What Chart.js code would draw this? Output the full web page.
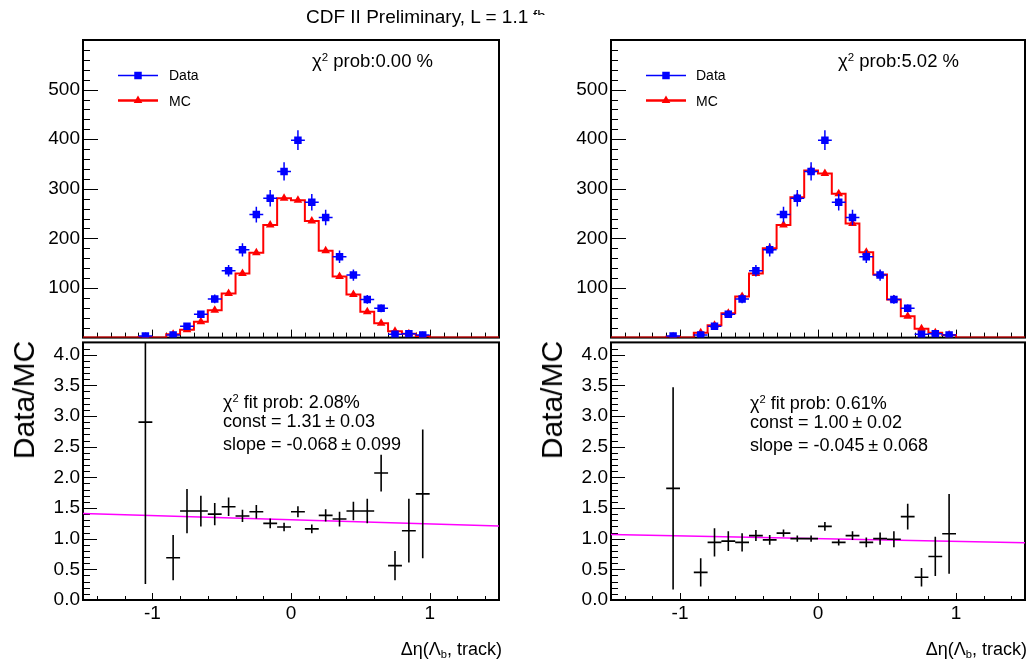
<!DOCTYPE html>
<html>
<head>
<meta charset="utf-8">
<script src="https://cdn.jsdelivr.net/npm/chart.js@4.4.1/dist/chart.umd.min.js"></script>
<style>
  body { margin: 0; background: #fff; }
  #page { position: relative; width: 1031px; height: 666px; overflow: hidden;
          font-family: "Liberation Sans", Arial, Helvetica, sans-serif; color: #000; }
  canvas { position: absolute; }
  .t { position: absolute; white-space: nowrap; line-height: 1; }
  .t sup { font-size: 62%; vertical-align: 0.55em; line-height: 0; }
  .t sub { font-size: 62%; vertical-align: -0.3em; line-height: 0; }
  .big { font-size: 18px; }
  .leg { font-size: 14px; }
  .ylab { font-size: 30px; transform: translate(-50%, -50%) rotate(-90deg); }
  .xlab { font-size: 18px; transform: translateX(-100%); }
</style>
</head>
<body>
<div id="page">
  <canvas id="topLeft" width="515" height="352" style="left:0px;top:0px"></canvas>
  <canvas id="botLeft" width="515" height="312" style="left:0px;top:328px"></canvas>
  <canvas id="topRight" width="503" height="352" style="left:528px;top:0px"></canvas>
  <canvas id="botRight" width="503" height="312" style="left:528px;top:328px"></canvas>

  <div class="t" style="left:306px;top:7px;font-size:19px">CDF II Preliminary, L = 1.1</div>
  <div style="position:absolute;left:533px;top:10px;width:16px;height:5px;overflow:hidden">
    <div class="t" style="left:0px;top:-2px;font-size:15px">fb</div>
  </div>

  <div class="t big" style="left:312px;top:52px;font-size:18.5px">&chi;<sup>2</sup> prob:0.00 %</div>
  <div class="t big" style="left:838px;top:52px;font-size:18.5px">&chi;<sup>2</sup> prob:5.02 %</div>

  <div class="t leg" style="left:169px;top:68px">Data</div>
  <div class="t leg" style="left:169px;top:94px">MC</div>
  <div class="t leg" style="left:696px;top:68px">Data</div>
  <div class="t leg" style="left:696px;top:94px">MC</div>

  <div class="t big" style="left:223px;top:393px">&chi;<sup>2</sup> fit prob: 2.08%</div>
  <div class="t big" style="left:223px;top:412px">const = 1.31&#8201;&plusmn; 0.03</div>
  <div class="t big" style="left:223px;top:435px">slope = -0.068&#8201;&plusmn; 0.099</div>
  <div class="t big" style="left:750px;top:394px">&chi;<sup>2</sup> fit prob: 0.61%</div>
  <div class="t big" style="left:750px;top:413px">const = 1.00&#8201;&plusmn; 0.02</div>
  <div class="t big" style="left:750px;top:436px">slope = -0.045&#8201;&plusmn; 0.068</div>

  <div class="t ylab" style="left:24px;top:400px">Data/MC</div>
  <div class="t ylab" style="left:552px;top:400px">Data/MC</div>

  <div class="t xlab" style="left:502px;top:640px">&Delta;&eta;(&Lambda;<sub>b</sub>, track)</div>
  <div class="t xlab" style="left:1027px;top:640px">&Delta;&eta;(&Lambda;<sub>b</sub>, track)</div>
</div>

<script>
// bin centres of the filled bins (width 0.1)
const binCenters = [-1.05, -0.95, -0.85, -0.75, -0.65, -0.55, -0.45, -0.35, -0.25, -0.15, -0.05,
                    0.05, 0.15, 0.25, 0.35, 0.45, 0.55, 0.65, 0.75, 0.85, 0.95];
const dataCounts = [3, 0, 5, 23, 47, 78, 135, 177, 248, 281, 335,
                    398, 273, 242, 163, 126, 77, 59, 7, 8, 5];
const mcLeft  = [1, 0, 7, 16, 32, 55, 89, 129, 171, 227, 281,
                 277, 235, 175, 123, 87, 52, 29, 13, 8, 3];
const mcRight = [1.6, 0, 10, 25, 49, 83, 129, 180, 227, 283, 337,
                 331, 290, 230, 172, 127, 77, 43, 18, 10, 5];
const ratioLeft     = [2.90, null, 0.69, 1.45, 1.45, 1.40, 1.52, 1.37, 1.44, 1.25, 1.19,
                       1.44, 1.16, 1.38, 1.32, 1.45, 1.45, 2.07, 0.56, 1.13, 1.73];
const ratioLeftErr  = [2.64, null, 0.37, 0.36, 0.25, 0.18, 0.15, 0.10, 0.11, 0.08, 0.07,
                       0.09, 0.07, 0.10, 0.12, 0.15, 0.20, 0.30, 0.24, 0.52, 1.05];
const ratioRight    = [1.82, null, 0.45, 0.94, 0.96, 0.94, 1.05, 0.98, 1.09, 1.00, 1.00,
                       1.20, 0.94, 1.05, 0.94, 1.00, 0.99, 1.36, 0.37, 0.71, 1.08];
const ratioRightErr = [1.65, null, 0.23, 0.23, 0.16, 0.15, 0.09, 0.08, 0.06, 0.05, 0.05,
                       0.07, 0.05, 0.07, 0.08, 0.10, 0.13, 0.21, 0.15, 0.32, 0.65];
// linear fit: [const, slope]
const fitLeft  = [1.31, -0.068];
const fitRight = [1.00, -0.045];
// labelled x ticks of the ratio panels
const xTickValues = [-1, 0, 1];

const X_MIN = -1.5, X_MAX = 1.5, BIN_HALF = 0.05;
const BLUE = '#0000ff', RED = '#ff0000', MAGENTA = '#ff00ff';

Chart.defaults.font.family = '"Liberation Sans", Arial, Helvetica, sans-serif';
Chart.defaults.color = '#000';

function markerPoints(values) {
    return binCenters.map((x, i) => ({ x: x, y: values[i], e: Math.sqrt(values[i]) }))
        .filter(p => p.y > 0);
}

function ratioPoints(values, errs) {
    return binCenters.map((x, i) => ({ x: x, y: values[i], e: errs[i] }))
        .filter(p => p.y !== null);
}

// histogram outline, flat at zero outside the filled bins
function stepPoints(values) {
    const pts = [{ x: X_MIN, y: 0 }, { x: binCenters[0] - BIN_HALF, y: 0 }];
    binCenters.forEach((c, i) => {
        pts.push({ x: c - BIN_HALF, y: values[i] }, { x: c + BIN_HALF, y: values[i] });
    });
    pts.push({ x: binCenters[binCenters.length - 1] + BIN_HALF, y: 0 }, { x: X_MAX, y: 0 });
    return pts;
}

function eachTick(min, max, t, fn) {
    const k0 = Math.ceil(min / t.minor - 1e-6), k1 = Math.floor(max / t.minor + 1e-6);
    for (let k = k0; k <= k1; k++) {
        const v = k * t.minor;
        if (Math.abs(v - min) < 1e-9 || Math.abs(v - max) < 1e-9) continue;
        const r = v / t.major;
        fn(v, Math.abs(r - Math.round(r)) < 1e-6 ? t.majorLen : t.minorLen);
    }
}

// ROOT style frame with inward ticks
const rootAxes = {
    id: 'rootAxes',
    beforeDatasetsDraw(chart, args, opts) {
        const { ctx, chartArea: a, scales: { x, y } } = chart;
        ctx.save();
        ctx.strokeStyle = '#000';
        ctx.lineWidth = 1;
        ctx.beginPath();
        eachTick(x.min, x.max, opts.x, (v, len) => {
            const px = Math.round(x.getPixelForValue(v)) + 0.5;
            ctx.moveTo(px, a.bottom);
            ctx.lineTo(px, a.bottom - len);
        });
        eachTick(y.min, y.max, opts.y, (v, len) => {
            const py = Math.round(y.getPixelForValue(v)) + 0.5;
            ctx.moveTo(a.left, py);
            ctx.lineTo(a.left + len, py);
        });
        ctx.stroke();
        ctx.lineWidth = 2;
        ctx.strokeRect(a.left, a.top, a.right - a.left, a.bottom - a.top);
        ctx.restore();
    }
};

const errorBars = {
    id: 'errorBars',
    beforeDatasetDraw(chart, args) {
        const ds = chart.data.datasets[args.index];
        if (!ds.errColor) return;
        const { ctx, chartArea: a, scales: { x, y } } = chart;
        ctx.save();
        ctx.beginPath();
        ctx.rect(a.left, a.top, a.right - a.left, a.bottom - a.top);
        ctx.clip();
        ctx.strokeStyle = ds.errColor;
        ctx.lineWidth = ds.errWidth;
        ctx.beginPath();
        ds.data.forEach(p => {
            const px = x.getPixelForValue(p.x), py = y.getPixelForValue(p.y);
            ctx.moveTo(px, y.getPixelForValue(p.y - p.e));
            ctx.lineTo(px, y.getPixelForValue(p.y + p.e));
            ctx.moveTo(x.getPixelForValue(p.x - BIN_HALF), py);
            ctx.lineTo(x.getPixelForValue(p.x + BIN_HALF), py);
        });
        ctx.stroke();
        ctx.restore();
    }
};

// legend symbols (labels are html)
const legendMarks = {
    id: 'legendMarks',
    afterDatasetsDraw(chart, args, opts) {
        if (!opts.rows) return;
        const { ctx, chartArea: a } = chart;
        opts.rows.forEach((row, i) => {
            const ds = chart.data.datasets[row.dataset];
            const y = a.top + 35.5 + i * 25;
            const x0 = a.left + opts.dx, x1 = x0 + 40;
            ctx.save();
            ctx.strokeStyle = ds.backgroundColor;
            ctx.lineWidth = row.lineWidth;
            ctx.beginPath();
            ctx.moveTo(x0, y);
            ctx.lineTo(x1, y);
            ctx.stroke();
            ctx.fillStyle = ds.backgroundColor;
            Chart.helpers.drawPoint(ctx, { pointStyle: ds.pointStyle, radius: ds.pointRadius, rotation: 0, borderWidth: 0 },
                (x0 + x1) / 2, y);
            ctx.restore();
        });
    }
};

function yAxisWidth(w) {
    return scale => { scale.width = w; };
}

function histPanel(id, mc, padRight) {
    return new Chart(document.getElementById(id), {
        type: 'scatter',
        data: {
            datasets: [
                { label: 'Data', data: markerPoints(dataCounts), pointStyle: 'rect', pointRadius: 5.3,
                  backgroundColor: BLUE, borderColor: BLUE, borderWidth: 0, errColor: BLUE, errWidth: 1.5 },
                { label: 'MC', data: markerPoints(mc), pointStyle: 'triangle', pointRadius: 5,
                  backgroundColor: RED, borderColor: RED, borderWidth: 0 },
                { label: 'MC hist', data: stepPoints(mc), showLine: true, pointRadius: 0,
                  borderColor: RED, borderWidth: 2, tension: 0 }
            ]
        },
        options: {
            responsive: false,
            devicePixelRatio: 1,
            animation: false,
            events: [],
            layout: { padding: { left: 0, right: padRight, top: 40, bottom: 12 } },
            plugins: {
                legend: { display: false },
                tooltip: { enabled: false },
                rootAxes: {
                    x: { minor: 0.1, major: 1, minorLen: 5, majorLen: 8 },
                    y: { minor: 20, major: 100, minorLen: 7, majorLen: 15 }
                },
                legendMarks: { dx: 35, rows: [{ dataset: 0, lineWidth: 1.3 }, { dataset: 1, lineWidth: 2.5 }] }
            },
            scales: {
                x: { type: 'linear', min: X_MIN, max: X_MAX, display: false },
                y: {
                    min: 0, max: 600,
                    afterFit: yAxisWidth(83),
                    grid: { display: false, drawTicks: false },
                    border: { display: false },
                    ticks: { stepSize: 100, padding: 3, font: { size: 19 },
                             callback: v => (v === 0 || v === 600) ? '' : v }
                }
            }
        },
        plugins: [rootAxes, errorBars, legendMarks]
    });
}

function ratioPanel(id, ratio, err, fit, padRight) {
    return new Chart(document.getElementById(id), {
        type: 'scatter',
        data: {
            datasets: [
                { label: 'Data/MC', data: ratioPoints(ratio, err), pointRadius: 0,
                  errColor: '#000', errWidth: 1.6 },
                { label: 'fit', showLine: true, pointRadius: 0, borderColor: MAGENTA, borderWidth: 1.5,
                  data: [{ x: X_MIN, y: fit[0] + fit[1] * X_MIN }, { x: X_MAX, y: fit[0] + fit[1] * X_MAX }] }
            ]
        },
        options: {
            responsive: false,
            devicePixelRatio: 1,
            animation: false,
            events: [],
            layout: { padding: { left: 0, right: padRight, top: 12, bottom: 0 } },
            plugins: {
                legend: { display: false },
                tooltip: { enabled: false },
                rootAxes: {
                    x: { minor: 0.2, major: 1, minorLen: 4, majorLen: 7 },
                    y: { minor: 0.1, major: 0.5, minorLen: 7, majorLen: 14 }
                }
            },
            scales: {
                x: {
                    type: 'linear', min: X_MIN, max: X_MAX,
                    afterFit: scale => { scale.height = 40; },
                    afterBuildTicks: scale => { scale.ticks = xTickValues.map(v => ({ value: v })); },
                    grid: { display: false, drawTicks: false },
                    border: { display: false },
                    ticks: { padding: 2, maxRotation: 0, autoSkip: false, font: { size: 19 } }
                },
                y: {
                    min: 0, max: 4.2,
                    afterFit: yAxisWidth(83),
                    grid: { display: false, drawTicks: false },
                    border: { display: false },
                    ticks: { stepSize: 0.5, includeBounds: false, padding: 3, font: { size: 19 },
                             callback: v => v.toFixed(1) }
                }
            }
        },
        plugins: [rootAxes, errorBars]
    });
}

histPanel('topLeft', mcLeft, 16);
ratioPanel('botLeft', ratioLeft, ratioLeftErr, fitLeft, 16);
histPanel('topRight', mcRight, 6);
ratioPanel('botRight', ratioRight, ratioRightErr, fitRight, 6);
</script>
</body>
</html>
